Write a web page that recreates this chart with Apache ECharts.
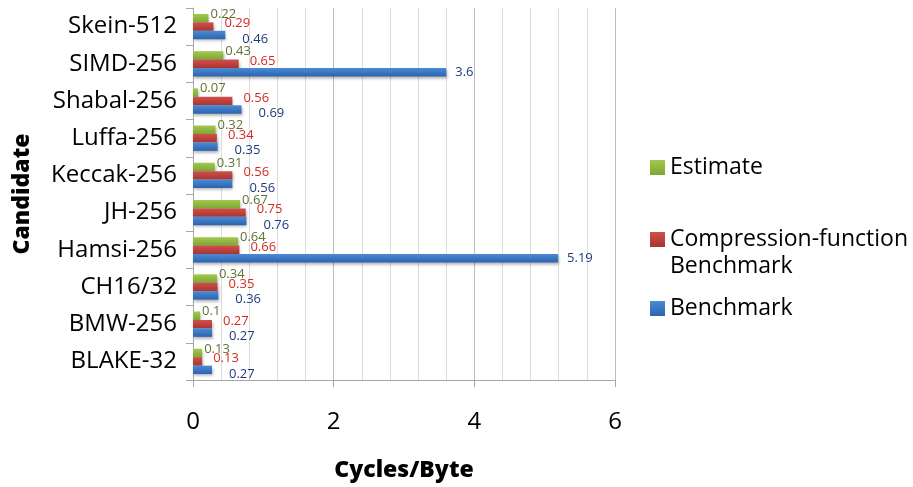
<!DOCTYPE html>
<html><head><meta charset="utf-8">
<script src="https://cdn.jsdelivr.net/npm/echarts@6/dist/echarts.min.js"></script>
<style>html,body{margin:0;padding:0;background:#fff}#c{width:913px;height:487px}</style>
</head><body><div id="c"></div>
<script>
const categories = ['BLAKE-32','BMW-256','CH16/32','Hamsi-256','JH-256','Keccak-256','Luffa-256','Shabal-256','SIMD-256','Skein-512'];
const benchmark = [0.27,0.27,0.36,5.19,0.76,0.56,0.35,0.69,3.6,0.46];
const compression = [0.13,0.27,0.35,0.66,0.75,0.56,0.34,0.56,0.65,0.29];
const estimate = [0.13,0.1,0.34,0.64,0.67,0.31,0.32,0.07,0.43,0.22];
const xTicks = [0,2,4,6];

const FONT = '"Open Sans", "Noto Sans", sans-serif';
function grad(top, bottom){
  return new echarts.graphic.LinearGradient(0,0,0,1,[{offset:0,color:top},{offset:1,color:bottom}]);
}
function mkData(vals, farDist){
  return vals.map(v => v > 2 ? {value:v, label:{distance:farDist, offset:[0,0]}} : v);
}
const legendText = {fontSize:23,color:'#000',fontFamily:FONT};
const chart = echarts.init(document.getElementById('c'));
chart.setOption({
  animation:false,
  textStyle:{fontFamily:FONT},
  grid:{left:193,right:298,top:8,bottom:94,containLabel:false},
  legend:[
    {orient:'vertical',left:645,top:151,itemWidth:15,itemHeight:15,icon:'rect',
     data:['Estimate'],textStyle:legendText},
    {orient:'vertical',left:645,top:223,itemWidth:15,itemHeight:15,icon:'rect',
     data:['Compression-function Benchmark'],formatter:()=> 'Compression-function',
     textStyle:legendText},
    {orient:'vertical',left:645,top:292,itemWidth:15,itemHeight:15,icon:'rect',
     data:['Benchmark'],textStyle:legendText}
  ],
  graphic:[{type:'text',x:670,y:266,style:{text:'Benchmark',fontSize:23,fill:'#000',fontFamily:FONT,verticalAlign:'middle'}}],
  xAxis:{type:'value',min:xTicks[0],max:xTicks[xTicks.length-1],interval:2,
    name:'Cycles/Byte',nameLocation:'middle',nameGap:79,
    nameTextStyle:{fontSize:23,fontWeight:800,color:'#000',fontFamily:FONT},
    axisLine:{show:true,lineStyle:{color:'#a6a6a6'}},
    axisTick:{show:true,length:7,lineStyle:{color:'#a6a6a6'}},
    axisLabel:{fontSize:24,color:'#000',margin:30,fontFamily:FONT},
    splitLine:{show:true,lineStyle:{color:'#bdbdbd'}},
    minorTick:{show:false,splitNumber:5},
    minorSplitLine:{show:true,lineStyle:{color:'#dcdcdc'}}
  },
  yAxis:{type:'category',data:categories,
    name:'Candidate',nameLocation:'middle',nameGap:159,nameRotate:90,
    nameTextStyle:{fontSize:23,fontWeight:800,color:'#000',fontFamily:FONT},
    axisLine:{show:true,lineStyle:{color:'#a6a6a6'}},
    axisTick:{show:true,length:7,lineStyle:{color:'#a6a6a6'}},
    axisLabel:{fontSize:24,color:'#000',margin:16,fontFamily:FONT},
    splitLine:{show:false}
  },
  series:[
    {name:'Estimate',type:'bar',data:estimate,barGap:'0%',barCategoryGap:'32%',
     itemStyle:{color:grad('#a2c94e','#7da734'),shadowBlur:3,shadowOffsetX:1,shadowOffsetY:2,shadowColor:'rgba(0,0,0,0.3)'},
     label:{show:true,position:'right',distance:2,offset:[0,-4],fontSize:13,color:'#5e7330',fontFamily:FONT}},
    {name:'Compression-function Benchmark',type:'bar',data:compression,barGap:'0%',barCategoryGap:'32%',
     itemStyle:{color:grad('#d0504a','#a93430'),shadowBlur:3,shadowOffsetX:1,shadowOffsetY:2,shadowColor:'rgba(0,0,0,0.3)'},
     label:{show:true,position:'right',distance:11,offset:[0,-3],fontSize:13,color:'#d42a22',fontFamily:FONT}},
    {name:'Benchmark',type:'bar',data:mkData(benchmark,9),barGap:'0%',barCategoryGap:'32%',
     itemStyle:{color:grad('#4a8ad6','#2d64ad'),shadowBlur:3,shadowOffsetX:1,shadowOffsetY:2,shadowColor:'rgba(0,0,0,0.3)'},
     label:{show:true,position:'right',distance:17,offset:[0,4],fontSize:13,color:'#1f3a78',fontFamily:FONT}}
  ]
});
</script></body></html>
